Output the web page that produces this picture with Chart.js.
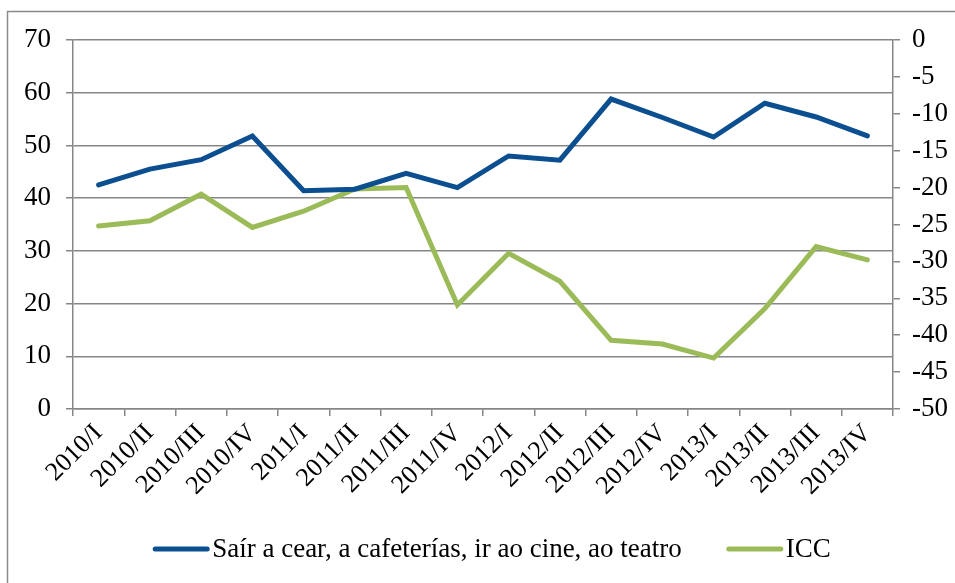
<!DOCTYPE html>
<html>
<head>
<meta charset="utf-8">
<script src="https://cdn.jsdelivr.net/npm/chart.js@4.4.1/dist/chart.umd.min.js"></script>
<style>
  html, body { margin: 0; padding: 0; background: #fff; }
  #wrap { width: 955px; height: 583px; position: relative; }
</style>
</head>
<body>
<div id="wrap"><canvas id="c" width="955" height="583"></canvas></div>
<script>
const categories = ['2010/I','2010/II','2010/III','2010/IV','2011/I','2011/II','2011/III','2011/IV','2012/I','2012/II','2012/III','2012/IV','2013/I','2013/II','2013/III','2013/IV'];
const sairValues = [42.5, 45.5, 47.3, 51.8, 41.4, 41.7, 44.7, 42.0, 48.0, 47.2, 58.8, 55.3, 51.6, 58.0, 55.4, 51.8];
const iccValues = [-25.2, -24.5, -20.9, -25.4, -23.2, -20.2, -20.0, -35.9, -28.9, -32.7, -40.7, -41.2, -43.1, -36.4, -28.0, -29.8];
const seriesNames = ['Saír a cear, a cafeterías, ir ao cine, ao teatro', 'ICC'];
const leftTicks = [0, 10, 20, 30, 40, 50, 60, 70];
const rightTicks = [-50, -45, -40, -35, -30, -25, -20, -15, -10, -5, 0];

const FONT = "'Liberation Serif', 'Times New Roman', serif";
const GRID = '#868686';

const framePlugin = {
  id: 'frame',
  beforeDraw(chart) {
    const ctx = chart.ctx;
    ctx.save();
    ctx.fillStyle = '#fff';
    ctx.fillRect(0, 0, chart.width, chart.height);
    ctx.strokeStyle = '#8a8a8a';
    ctx.lineWidth = 1.5;
    ctx.strokeRect(7.5, 11.5, 2000, 2000);
    ctx.restore();
  },
  afterDraw(chart) {
    const ctx = chart.ctx;
    ctx.save();
    ctx.font = '27px ' + FONT;
    ctx.textBaseline = 'middle';
    const sw = 56, gap = 3, spacing = 45;
    const items = chart.data.datasets.map(d => ({ text: d.label, color: d.borderColor, w: ctx.measureText(d.label).width }));
    let total = 0;
    items.forEach((it, i) => { total += sw + gap + it.w + (i < items.length - 1 ? spacing : 0); });
    let x = 492 - total / 2;
    const y = 549;
    items.forEach(it => {
      ctx.strokeStyle = it.color;
      ctx.lineWidth = 5;
      ctx.lineCap = 'round';
      ctx.beginPath();
      ctx.moveTo(x + 2, y);
      ctx.lineTo(x + sw - 2, y);
      ctx.stroke();
      ctx.fillStyle = '#000';
      ctx.fillText(it.text, x + sw + gap, y + 1);
      x += sw + gap + it.w + spacing;
    });
    ctx.restore();
  }
};

new Chart(document.getElementById('c'), {
  type: 'line',
  data: {
    labels: categories,
    datasets: [
      { label: seriesNames[0], data: sairValues, yAxisID: 'y', borderColor: '#0b4f91', backgroundColor: '#0b4f91', borderWidth: 5, pointRadius: 0, tension: 0, borderJoinStyle: 'miter', borderCapStyle: 'round' },
      { label: seriesNames[1], data: iccValues, yAxisID: 'y1', borderColor: '#9bbb59', backgroundColor: '#9bbb59', borderWidth: 5, pointRadius: 0, tension: 0, borderJoinStyle: 'miter', borderCapStyle: 'round' }
    ]
  },
  options: {
    responsive: false,
    animation: false,
    devicePixelRatio: 1,
    layout: { padding: { top: 40, left: 0, right: 0, bottom: 54 } },
    plugins: { legend: { display: false }, tooltip: { enabled: false } },
    scales: {
      x: {
        offset: true,
        grid: { offset: true, drawOnChartArea: false, drawTicks: true, tickLength: 7, color: GRID, lineWidth: 1.5 },
        border: { display: true, color: GRID, width: 1.5 },
        ticks: { font: { family: FONT, size: 26 }, color: '#000', minRotation: 45, maxRotation: 45, autoSkip: false, padding: 2 },
        afterFit(s) { s.height = 120; }
      },
      y: {
        position: 'left',
        min: 0, max: 70,
        afterBuildTicks(s) { s.ticks = leftTicks.map(v => ({ value: v })); },
        grid: { color: GRID, lineWidth: 1.5, tickLength: 7 },
        border: { display: true, color: GRID, width: 1.5 },
        ticks: { font: { family: FONT, size: 27 }, color: '#000', padding: 15 },
        afterFit(s) { s.width = 73; }
      },
      y1: {
        position: 'right',
        min: -50, max: 0,
        afterBuildTicks(s) { s.ticks = rightTicks.map(v => ({ value: v })); },
        grid: { drawOnChartArea: false, color: GRID, lineWidth: 1.5, tickLength: 7 },
        border: { display: true, color: GRID, width: 1.5 },
        ticks: { font: { family: FONT, size: 27 }, color: '#000', padding: 12 },
        afterFit(s) { s.width = 62; }
      }
    }
  },
  plugins: [framePlugin]
});
</script>
</body>
</html>
